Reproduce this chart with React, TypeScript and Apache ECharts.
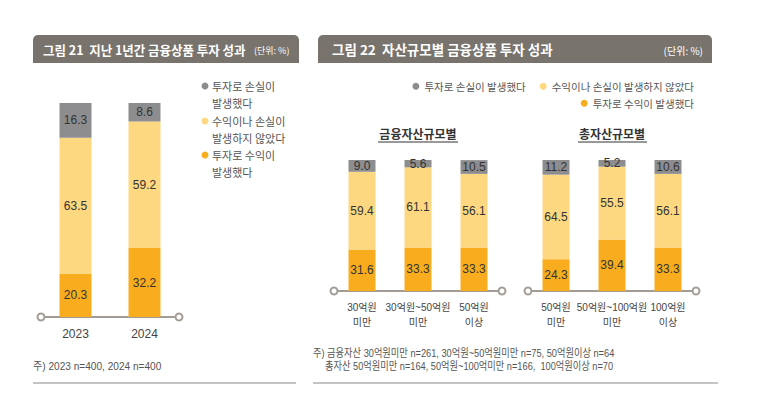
import React, { useEffect, useRef } from "react";
import * as echarts from "echarts";

const seriesNames = ["투자로 수익이 발생했다", "수익이나 손실이 발생하지 않았다", "투자로 손실이 발생했다"];

const categoriesYear = ["2023", "2024"];
const profitYear = [20.3, 32.2];
const neutralYear = [63.5, 59.2];
const lossYear = [16.3, 8.6];

const categoriesFin = ["30억원\n미만", "30억원~50억원\n미만", "50억원\n이상"];
const profitFin = [31.6, 33.3, 33.3];
const neutralFin = [59.4, 61.1, 56.1];
const lossFin = [9.0, 5.6, 10.5];

const categoriesTotal = ["50억원\n미만", "50억원~100억원\n미만", "100억원\n이상"];
const profitTotal = [24.3, 39.4, 33.3];
const neutralTotal = [64.5, 55.5, 56.1];
const lossTotal = [11.2, 5.2, 10.6];

const COLORS = ["#f9ad1e", "#fed880", "#8d8d8f"];
const NUMF = "'Liberation Sans','Noto Sans CJK KR',sans-serif";
const CJK = "'Noto Sans CJK KR','Noto Sans',sans-serif";

export default function App() {
  const ref = useRef<HTMLDivElement>(null);
  useEffect(() => {
    if (!ref.current) return;
    const chart = echarts.init(ref.current, null, { renderer: "svg" });

    const groups = [
      { cats: categoriesYear, data: [profitYear, neutralYear, lossYear], barWidth: 32, fs: 12 },
      { cats: categoriesFin, data: [profitFin, neutralFin, lossFin], barWidth: 27, fs: 10 },
      { cats: categoriesTotal, data: [profitTotal, neutralTotal, lossTotal], barWidth: 27, fs: 10 },
    ];

    const grids = [
      { left: 41, width: 138, top: 103, bottom: 77 },
      { left: 334, width: 168, top: 160, bottom: 103 },
      { left: 528, width: 168, top: 160, bottom: 103 },
    ];

    const xAxes = groups.map((g, i) => ({
      type: "category",
      gridIndex: i,
      data: g.cats,
      axisLine: {
        show: true,
        symbol: ["emptyCircle", "emptyCircle"],
        symbolSize: [7, 7],
        lineStyle: { color: "#a39c94", width: 2 },
      },
      axisTick: { show: false },
      axisLabel: {
        margin: 9,
        fontSize: g.fs,
        lineHeight: 15,
        color: "#444",
        fontFamily: NUMF,
        interval: 0,
      },
    }));
    const yAxes = groups.map((_, i) => ({ type: "value", gridIndex: i, min: 0, max: 100, show: false }));

    const series: any[] = [];
    groups.forEach((g, gi) => {
      g.data.forEach((vals, si) => {
        series.push({
          type: "bar",
          name: seriesNames[si],
          xAxisIndex: gi,
          yAxisIndex: gi,
          stack: "s" + gi,
          barWidth: g.barWidth,
          data: vals,
          itemStyle: { color: COLORS[si] },
          label: {
            show: true,
            position: "inside",
            formatter: (p: any) => Number(p.value).toFixed(1),
            fontSize: 12,
            color: "#333",
            fontFamily: NUMF,
          },
        });
      });
    });

    const leftLegend = [
      { color: COLORS[2], lines: ["투자로 손실이", "발생했다"], y: 86 },
      { color: COLORS[1], lines: ["수익이나 손실이", "발생하지 않았다"], y: 121 },
      { color: COLORS[0], lines: ["투자로 수익이", "발생했다"], y: 155 },
    ];
    const legendGraphics: any[] = [];
    leftLegend.forEach((it) => {
      legendGraphics.push({ type: "circle", shape: { cx: 205, cy: it.y, r: 3.5 }, style: { fill: it.color } });
      it.lines.forEach((t, k) => {
        legendGraphics.push({
          type: "text",
          x: 212,
          y: it.y + k * 17,
          style: { text: t, fill: "#555", font: `11px ${CJK}`, verticalAlign: "middle", align: "left" },
        });
      });
    });

    const legendCommon = {
      icon: "circle",
      itemWidth: 7,
      itemHeight: 7,
      itemGap: 14,
      textStyle: { fontSize: 10.5, color: "#555", fontFamily: CJK },
      selectedMode: false,
    };

    const option: any = {
      animation: false,
      grid: grids,
      xAxis: xAxes,
      yAxis: yAxes,
      series,
      legend: [
        { ...legendCommon, data: [seriesNames[2], seriesNames[1]], right: 74, top: 76 },
        { ...legendCommon, data: [seriesNames[0]], right: 74, top: 93 },
      ],
      graphic: [
        { type: "rect", shape: { x: 33, y: 35, width: 266, height: 28, r: [5, 5, 0, 0] }, style: { fill: "#79736d" } },
        { type: "rect", shape: { x: 318, y: 35, width: 394, height: 28, r: [5, 5, 0, 0] }, style: { fill: "#79736d" } },
        {
          type: "text", x: 43, y: 49, scaleX: 0.96,
          style: { text: "그림 21  지난 1년간 금융상품 투자 성과", fill: "#fff", font: `bold 13px ${CJK}`, verticalAlign: "middle" },
        },
        {
          type: "text", x: 254, y: 50,
          style: { text: "(단위: %)", fill: "#fff", font: `9px ${CJK}`, verticalAlign: "middle", align: "left" },
        },
        {
          type: "text", x: 332, y: 49,
          style: { text: "그림 22  자산규모별 금융상품 투자 성과", fill: "#fff", font: `bold 13.5px ${CJK}`, verticalAlign: "middle" },
        },
        {
          type: "text", x: 703, y: 50,
          style: { text: "(단위: %)", fill: "#fff", font: `10px ${CJK}`, verticalAlign: "middle", align: "right" },
        },
        ...legendGraphics,
        {
          type: "text", x: 418, y: 133,
          style: { text: "금융자산규모별", fill: "#333", font: `bold 12px ${CJK}`, verticalAlign: "middle", align: "center" },
        },
        { type: "line", shape: { x1: 378, y1: 142, x2: 458, y2: 142 }, style: { stroke: "#333", lineWidth: 1 } },
        {
          type: "text", x: 612, y: 133,
          style: { text: "총자산규모별", fill: "#333", font: `bold 12px ${CJK}`, verticalAlign: "middle", align: "center" },
        },
        { type: "line", shape: { x1: 578, y1: 142, x2: 647, y2: 142 }, style: { stroke: "#333", lineWidth: 1 } },
        {
          type: "text", x: 33, y: 366, scaleX: 0.92,
          style: { text: "주) 2023 n=400, 2024 n=400", fill: "#555", font: `11px ${NUMF}`, verticalAlign: "middle" },
        },
        {
          type: "text", x: 313, y: 353, scaleX: 0.84,
          style: { text: "주) 금융자산 30억원미만 n=261, 30억원~50억원미만 n=75, 50억원이상 n=64", fill: "#555", font: `11px ${NUMF}`, verticalAlign: "middle" },
        },
        {
          type: "text", x: 325, y: 366, scaleX: 0.84,
          style: { text: "총자산 50억원미만 n=164, 50억원~100억미만 n=166,  100억원이상 n=70", fill: "#555", font: `11px ${NUMF}`, verticalAlign: "middle" },
        },
        { type: "line", shape: { x1: 33, y1: 383, x2: 296, y2: 383 }, style: { stroke: "#b0b0b0", lineWidth: 1.5 } },
        { type: "line", shape: { x1: 313, y1: 383, x2: 718, y2: 383 }, style: { stroke: "#b0b0b0", lineWidth: 1.5 } },
      ],
    };
    chart.setOption(option);
    return () => chart.dispose();
  }, []);
  return <div ref={ref} style={{ position: "absolute", left: 0, top: 0, width: 773, height: 394, background: "#fff" }} />;
}
